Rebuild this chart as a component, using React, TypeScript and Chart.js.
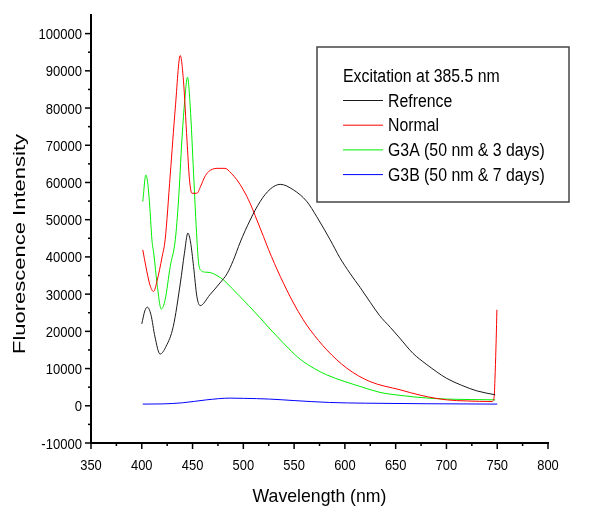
import React, { useEffect, useRef } from "react";
import { Chart, registerables } from "chart.js";

Chart.register(...registerables);

// ---- Data ----
const refWavelengths = [400, 403, 405.5, 409, 413, 418, 424, 431, 438, 442, 445.4, 448, 451, 454.3, 457.5, 467, 477, 484, 490, 497, 506.7, 516.6, 526.4, 536.3, 549.4, 562.5, 572.3, 585.5, 595, 605, 615, 625, 634, 645, 654, 667, 680, 690, 700, 715, 730, 748];
const refIntensity = [22000, 25500, 26500, 24500, 18500, 13900, 16000, 21300, 33000, 41000, 46400, 44000, 37400, 29300, 26900, 29800, 33000, 35500, 39000, 44000, 49900, 54900, 58200, 59500, 58000, 54900, 50800, 44600, 39800, 35600, 31800, 27800, 24300, 21000, 18200, 14100, 11200, 9200, 7400, 5500, 4000, 2950];

const normalWavelengths = [401, 404, 408, 411.6, 415, 420, 423, 428, 433, 437.9, 441, 444.5, 447, 449.4, 454.3, 458, 462, 465.7, 474, 482, 488, 493.7, 500, 506.7, 511.5, 519.8, 524.8, 536.3, 549.4, 559, 565.8, 582.2, 601.9, 624.8, 654.3, 675, 700, 720, 745, 747, 748, 749, 749.7];
const normalIntensity = [41900, 37500, 32500, 30700, 33500, 40000, 44600, 62000, 80000, 94100, 87500, 71400, 60700, 57100, 57100, 59000, 61500, 62900, 63800, 63800, 62500, 60700, 58000, 54400, 51200, 45500, 42000, 34800, 27600, 23100, 20400, 15000, 10100, 6500, 4300, 2800, 1600, 1300, 1150, 2500, 9000, 18000, 25800];

const g3aWavelengths = [401, 404, 406, 408, 410, 412, 415, 419.2, 423, 428, 433, 436.2, 439.5, 442, 445, 447.7, 451, 454.3, 456, 458.5, 463, 467.4, 474, 480.5, 489, 496.9, 505, 516.6, 526.4, 533, 545, 556, 570, 582.2, 600, 615, 634.6, 654.3, 680, 700, 748];
const g3aIntensity = [54900, 62000, 59500, 53000, 44600, 40500, 32900, 26000, 28500, 37400, 44600, 55300, 71400, 81000, 88300, 80400, 62500, 44600, 38300, 36300, 35900, 35800, 35000, 33800, 31500, 29300, 27000, 23600, 20600, 18700, 15300, 12500, 10000, 8300, 6500, 5200, 3600, 2800, 2100, 1800, 1600];

const g3bWavelengths = [401, 420, 440, 464, 487, 500, 526, 550, 585, 620, 680, 750];
const g3bIntensity = [450, 500, 800, 1600, 2060, 2000, 1800, 1400, 890, 700, 550, 450];

const seriesLabels = ["Refrence", "Normal", "G3A (50 nm & 3 days)", "G3B (50 nm & 7 days)"];
const seriesColors = ["#1a1a1a", "#ff0000", "#00ee00", "#0000ff"];
const legendTitle = "Excitation at 385.5 nm";

const xTickValues = [350, 400, 450, 500, 550, 600, 650, 700, 750, 800];
const yTickValues = [-10000, 0, 10000, 20000, 30000, 40000, 50000, 60000, 70000, 80000, 90000, 100000];
const xAxisTitle = "Wavelength (nm)";
const yAxisTitle = "Fluorescence Intensity";

const toPoints = (xs: number[], ys: number[]) => xs.map((x, i) => ({ x, y: ys[i] }));

const FONT = '"Liberation Sans", Arial, Helvetica, sans-serif';

const decorPlugin = {
  id: "decor",
  afterDraw(chart: any) {
    const ctx = chart.ctx as CanvasRenderingContext2D;
    const xs = chart.scales.x;
    const ys = chart.scales.y;
    const axX = xs.left;
    const axY = ys.bottom;
    ctx.save();
    ctx.strokeStyle = "#000";
    ctx.fillStyle = "#000";
    ctx.lineWidth = 1.5;
    for (let v = -10000; v <= 100000; v += 5000) {
      const y = ys.getPixelForValue(v);
      const len = v % 10000 === 0 ? 6 : 3;
      ctx.beginPath();
      ctx.moveTo(axX - len, y);
      ctx.lineTo(axX, y);
      ctx.stroke();
    }
    for (let w = 350; w <= 800; w += 25) {
      const x = xs.getPixelForValue(w);
      const len = w % 50 === 0 ? 6 : 3;
      ctx.beginPath();
      ctx.moveTo(x, axY);
      ctx.lineTo(x, axY + len);
      ctx.stroke();
    }
    ctx.font = `15px ${FONT}`;
    ctx.textBaseline = "alphabetic";
    for (const v of yTickValues) {
      const y = ys.getPixelForValue(v);
      ctx.save();
      ctx.translate(axX - 9, y + 5.5);
      ctx.scale(0.87, 1);
      ctx.textAlign = "right";
      ctx.fillText(String(v), 0, 0);
      ctx.restore();
    }
    for (const w of xTickValues) {
      const x = xs.getPixelForValue(w);
      ctx.save();
      ctx.translate(x, axY + 27);
      ctx.scale(0.86, 1);
      ctx.textAlign = "center";
      ctx.fillText(String(w), 0, 0);
      ctx.restore();
    }
    ctx.save();
    ctx.font = `19px ${FONT}`;
    ctx.translate((xs.left + xs.right) / 2, 502);
    ctx.scale(0.93, 1);
    ctx.textAlign = "center";
    ctx.fillText(xAxisTitle, 0, 0);
    ctx.restore();

    ctx.save();
    ctx.font = `22px ${FONT}`;
    ctx.translate(25, 244);
    ctx.rotate(-Math.PI / 2);
    ctx.scale(1, 0.75);
    ctx.textAlign = "center";
    ctx.fillText(yAxisTitle, 0, 0);
    ctx.restore();

    ctx.lineWidth = 1.5;
    ctx.strokeStyle = "#444";
    ctx.strokeRect(317, 47, 252, 155);
    ctx.font = `18px ${FONT}`;
    ctx.textAlign = "left";
    ctx.save();
    ctx.translate(343, 81.5);
    ctx.scale(0.88, 1);
    ctx.fillText(legendTitle, 0, 0);
    ctx.restore();
    seriesLabels.forEach((lab, i) => {
      const base = 106.5 + i * 24.7;
      ctx.strokeStyle = seriesColors[i];
      ctx.lineWidth = 1;
      ctx.beginPath();
      ctx.moveTo(343, base - 6);
      ctx.lineTo(383, base - 6);
      ctx.stroke();
      ctx.save();
      ctx.translate(388, base);
      ctx.scale(0.88, 1);
      ctx.fillText(lab, 0, 0);
      ctx.restore();
    });
    ctx.restore();
  },
};

export default function App() {
  const canvasRef = useRef<HTMLCanvasElement | null>(null);

  useEffect(() => {
    const canvas = canvasRef.current;
    if (!canvas) return;
    const datasets = [
      toPoints(refWavelengths, refIntensity),
      toPoints(normalWavelengths, normalIntensity),
      toPoints(g3aWavelengths, g3aIntensity),
      toPoints(g3bWavelengths, g3bIntensity),
    ].map((data, i) => ({
      label: seriesLabels[i],
      data,
      borderColor: seriesColors[i],
      backgroundColor: seriesColors[i],
      borderWidth: 1,
      pointRadius: 0,
      fill: false,
      cubicInterpolationMode: "monotone" as const,
    }));

    const chart = new Chart(canvas, {
      type: "line",
      data: { datasets },
      options: {
        responsive: false,
        animation: false,
        layout: { padding: { top: 15, right: 52, left: 0, bottom: 0 } },
        plugins: { legend: { display: false }, tooltip: { enabled: false } },
        scales: {
          x: {
            type: "linear",
            min: 350,
            max: 800,
            grid: { display: false },
            border: { display: true, color: "#000", width: 2 },
            ticks: { display: false },
            afterFit: (s: any) => {
              s.height = 74;
            },
          },
          y: {
            type: "linear",
            min: -10000,
            max: 105000,
            grid: { display: false },
            border: { display: true, color: "#000", width: 2 },
            ticks: { display: false },
            afterFit: (s: any) => {
              s.width = 91;
            },
          },
        },
      },
      plugins: [decorPlugin],
    });
    return () => chart.destroy();
  }, []);

  return (
    <div style={{ position: "absolute", left: 0, top: 0, width: 600, height: 517, background: "#fff" }}>
      <canvas ref={canvasRef} width={600} height={517} style={{ width: 600, height: 517 }} />
    </div>
  );
}
